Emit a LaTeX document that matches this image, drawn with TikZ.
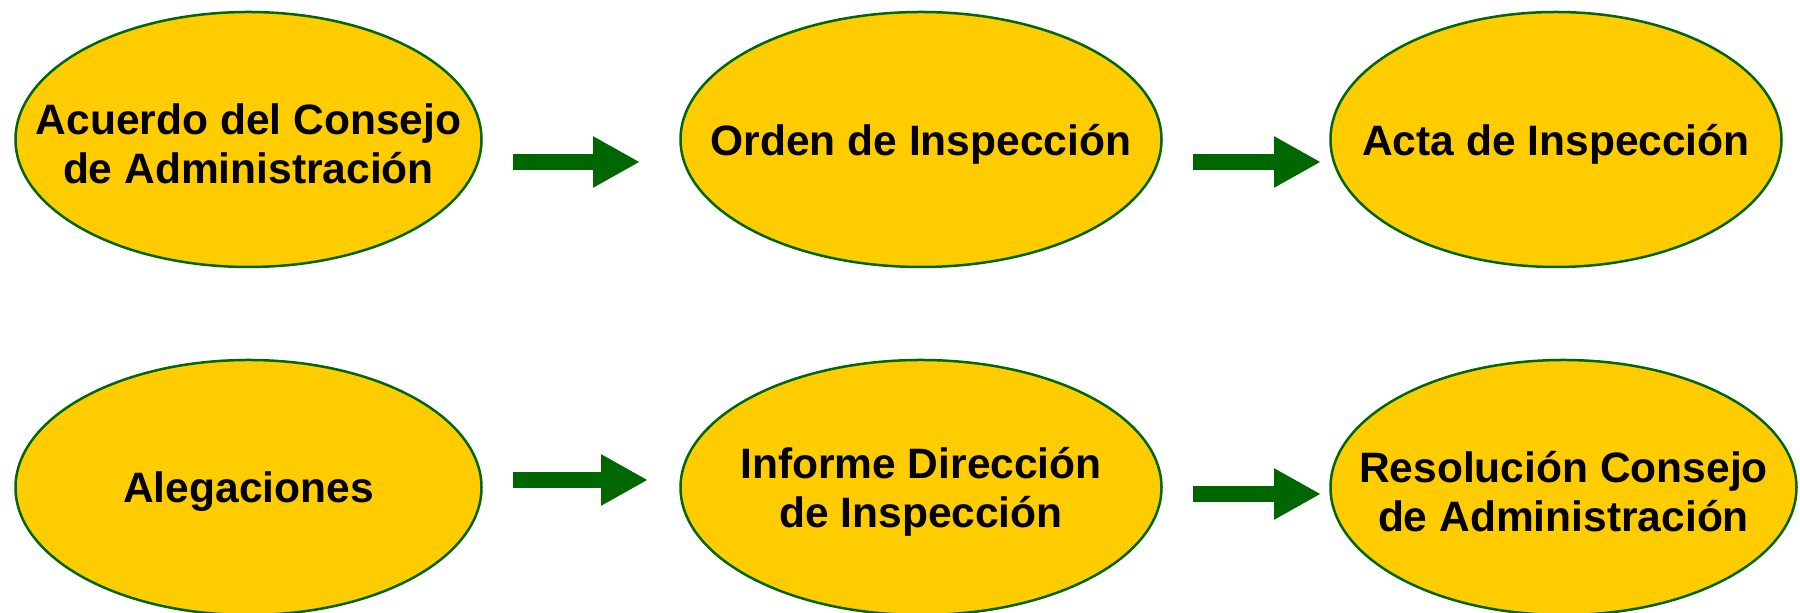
\documentclass[tikz,border=0pt]{standalone}
\usepackage{fontspec}
\setmainfont{Liberation Sans}
\usepackage{tikz}
\usetikzlibrary{arrows.meta,shapes.geometric}

\definecolor{stagefill}{HTML}{FFCC00}
\definecolor{stagegreen}{HTML}{006600}

\tikzset{
    stage/.style={ellipse, draw=stagegreen, fill=stagefill, line width=0.025cm,
        inner sep=0pt, outer sep=0pt, minimum height=2.55cm},
    stagetext/.style={align=center, yshift=-0.045cm, font=\fontsize{12.1pt}{13.9pt}\selectfont\bfseries},
    flow/.style={draw=stagegreen, line width=0.16cm,
        -{Triangle[length=0.47cm, width=0.48cm]}, shorten <=0.315cm}
}

\begin{document}
\begin{tikzpicture}

    \useasboundingbox (0,0) rectangle (18,-6.13);

    % agreement of the board
    \node[stage, minimum width=4.66cm, label={[stagetext]center:Acuerdo del Consejo\\de Administración}] (acuerdo) at (2.485,-1.395) {};

    % inspection order
    \node[stage, minimum width=4.81cm, label={[stagetext]center:Orden de Inspección}] (orden) at (9.21,-1.395) {};
    \draw[flow, shorten >=0.405cm] ([yshift=-0.225cm]acuerdo.east) to ([yshift=-0.225cm]orden.west);

    % inspection record
    \node[stage, minimum width=4.51cm, label={[stagetext]center:Acta de Inspección}] (acta) at (15.56,-1.395) {};
    \draw[flow, shorten >=0.095cm] ([yshift=-0.225cm]orden.east) to ([yshift=-0.225cm]acta.west);

    % allegations
    \node[stage, minimum width=4.66cm, label={[stagetext]center:Alegaciones}] (alegaciones) at (2.485,-4.875) {};

    % report of the inspection directorate
    \node[stage, minimum width=4.81cm, label={[stagetext]center:Informe Dirección\\de Inspección}] (informe) at (9.21,-4.875) {};
    \draw[flow, shorten >=0.325cm] ([yshift=0.075cm]alegaciones.east) to ([yshift=0.075cm]informe.west);

    % resolution of the board
    \node[stage, minimum width=4.66cm, label={[stagetext]center:Resolución Consejo\\de Administración}] (resolucion) at (15.635,-4.875) {};
    \draw[flow, shorten >=0.095cm] ([yshift=-0.065cm]informe.east) to ([yshift=-0.065cm]resolucion.west);

\end{tikzpicture}
\end{document}
